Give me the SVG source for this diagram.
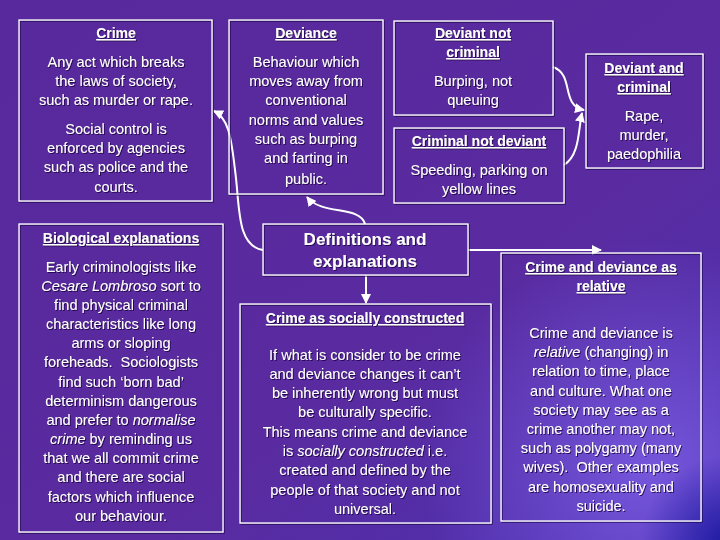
<svg xmlns="http://www.w3.org/2000/svg" width="720" height="540" viewBox="0 0 720 540">
<defs>
<linearGradient id="bg" x1="0" y1="0" x2="1" y2="1">
<stop offset="0" stop-color="#58299c"/>
<stop offset="0.6" stop-color="#5a2ba0"/>
<stop offset="1" stop-color="#4a30b0"/>
</linearGradient>
<radialGradient id="glow" cx="650" cy="470" r="230" gradientUnits="userSpaceOnUse">
<stop offset="0" stop-color="#7a5ae0" stop-opacity="0.9"/>
<stop offset="1" stop-color="#7a5ae0" stop-opacity="0"/>
</radialGradient>
<radialGradient id="corner" cx="730" cy="545" r="90" gradientUnits="userSpaceOnUse">
<stop offset="0" stop-color="#1a18a0" stop-opacity="1"/>
<stop offset="1" stop-color="#1a18a0" stop-opacity="0"/>
</radialGradient>
<filter id="sh" x="-5%" y="-20%" width="110%" height="140%">
<feDropShadow dx="1" dy="1" stdDeviation="0.4" flood-color="#1a0040" flood-opacity="0.8"/>
</filter>
<marker id="ah" viewBox="0 0 10 10" refX="9" refY="5" markerWidth="5" markerHeight="5" orient="auto" markerUnits="strokeWidth">
<path d="M0,0 L10,5 L0,10 z" fill="#fff"/>
</marker>
<style>
.box{fill:none;stroke:#fff;stroke-width:1.3}
text{font-family:"Comic Sans MS","Liberation Sans",sans-serif;fill:#fff;text-anchor:middle;font-size:14.5px}
.t{font-weight:bold;text-decoration:underline;font-size:14px}
.big{font-weight:bold;font-size:17px}
.i{font-style:italic}
.c{fill:none;stroke:#fff;stroke-width:2}
</style>
</defs>
<rect width="720" height="540" fill="url(#bg)"/>
<rect width="720" height="540" fill="url(#glow)"/>
<rect width="720" height="540" fill="url(#corner)"/>

<g id="connectors">
<path class="c" d="M263,250 C236,246 240,205 235,170 C231,135 228,118 214,111" marker-end="url(#ah)"/>
<path class="c" d="M365,224 C360,205 322,216 307,197" marker-end="url(#ah)"/>
<path class="c" d="M366,275 L366,303" marker-end="url(#ah)"/>
<path class="c" d="M468,250 L601,250" marker-end="url(#ah)"/>
<path class="c" d="M553,67 C575,75 560,105 584,110" marker-end="url(#ah)"/>
<path class="c" d="M564,165 C580,155 578,130 582,113" marker-end="url(#ah)"/>
</g>

<g id="crime" filter="url(#sh)">
<rect class="box" x="19" y="20" width="193" height="181"/>
<text class="t" x="116" y="38">Crime</text>
<text x="116" y="67">Any act which breaks</text>
<text x="116" y="86">the laws of society,</text>
<text x="116" y="105">such as murder or rape.</text>
<text x="116" y="134">Social control is</text>
<text x="116" y="153">enforced by agencies</text>
<text x="116" y="172">such as police and the</text>
<text x="116" y="192">courts.</text>
</g>

<g id="deviance" filter="url(#sh)">
<rect class="box" x="229" y="20" width="154" height="174"/>
<text class="t" x="306" y="38">Deviance</text>
<text x="306" y="67">Behaviour which</text>
<text x="306" y="86">moves away from</text>
<text x="306" y="105">conventional</text>
<text x="306" y="125">norms and values</text>
<text x="306" y="144">such as burping</text>
<text x="306" y="163">and farting in</text>
<text x="306" y="184">public.</text>
</g>

<g id="deviant-not-criminal" filter="url(#sh)">
<rect class="box" x="394" y="21" width="159" height="94"/>
<text class="t" x="473" y="38">Deviant not</text>
<text class="t" x="473" y="57">criminal</text>
<text x="473" y="86">Burping, not</text>
<text x="473" y="105">queuing</text>
</g>

<g id="criminal-not-deviant" filter="url(#sh)">
<rect class="box" x="394" y="128" width="170" height="75"/>
<text class="t" x="479" y="146">Criminal not deviant</text>
<text x="479" y="175">Speeding, parking on</text>
<text x="479" y="194">yellow lines</text>
</g>

<g id="deviant-and-criminal" filter="url(#sh)">
<rect class="box" x="586" y="54" width="117" height="114"/>
<text class="t" x="644" y="73">Deviant and</text>
<text class="t" x="644" y="92">criminal</text>
<text x="644" y="121">Rape,</text>
<text x="644" y="140">murder,</text>
<text x="644" y="159">paedophilia</text>
</g>

<g id="biological" filter="url(#sh)">
<rect class="box" x="19" y="224" width="204" height="308"/>
<text class="t" x="121" y="243">Biological explanations</text>
<text x="121" y="272">Early criminologists like</text>
<text x="121" y="291"><tspan class="i">Cesare Lombroso</tspan> sort to</text>
<text x="121" y="310">find physical criminal</text>
<text x="121" y="329">characteristics like long</text>
<text x="121" y="348">arms or sloping</text>
<text x="121" y="367" xml:space="preserve">foreheads.  Sociologists</text>
<text x="121" y="387">find such ‘born bad’</text>
<text x="121" y="406">determinism dangerous</text>
<text x="121" y="425">and prefer to <tspan class="i">normalise</tspan></text>
<text x="121" y="444"><tspan class="i">crime</tspan> by reminding us</text>
<text x="121" y="463">that we all commit crime</text>
<text x="121" y="482">and there are social</text>
<text x="121" y="502">factors which influence</text>
<text x="121" y="521">our behaviour.</text>
</g>

<g id="definitions" filter="url(#sh)">
<rect class="box" x="263" y="224" width="205" height="51"/>
<text class="big" x="365" y="245">Definitions and</text>
<text class="big" x="365" y="267">explanations</text>
</g>

<g id="socially-constructed" filter="url(#sh)">
<rect class="box" x="240" y="304" width="251" height="219"/>
<text class="t" x="365" y="323">Crime as socially constructed</text>
<text x="365" y="360">If what is consider to be crime</text>
<text x="365" y="379">and deviance changes it can’t</text>
<text x="365" y="398">be inherently wrong but must</text>
<text x="365" y="417">be culturally specific.</text>
<text x="365" y="437">This means crime and deviance</text>
<text x="365" y="456">is <tspan class="i">socially constructed</tspan> i.e.</text>
<text x="365" y="475">created and defined by the</text>
<text x="365" y="495">people of that society and not</text>
<text x="365" y="514">universal.</text>
</g>

<g id="relative" filter="url(#sh)">
<rect class="box" x="501" y="253" width="200" height="268"/>
<text class="t" x="601" y="272">Crime and deviance as</text>
<text class="t" x="601" y="291">relative</text>
<text x="601" y="338">Crime and deviance is</text>
<text x="601" y="357"><tspan class="i">relative</tspan> (changing) in</text>
<text x="601" y="376">relation to time, place</text>
<text x="601" y="396">and culture. What one</text>
<text x="601" y="415">society may see as a</text>
<text x="601" y="434">crime another may not,</text>
<text x="601" y="453">such as polygamy (many</text>
<text x="601" y="472" xml:space="preserve">wives).  Other examples</text>
<text x="601" y="492">are homosexuality and</text>
<text x="601" y="511">suicide.</text>
</g>
</svg>
